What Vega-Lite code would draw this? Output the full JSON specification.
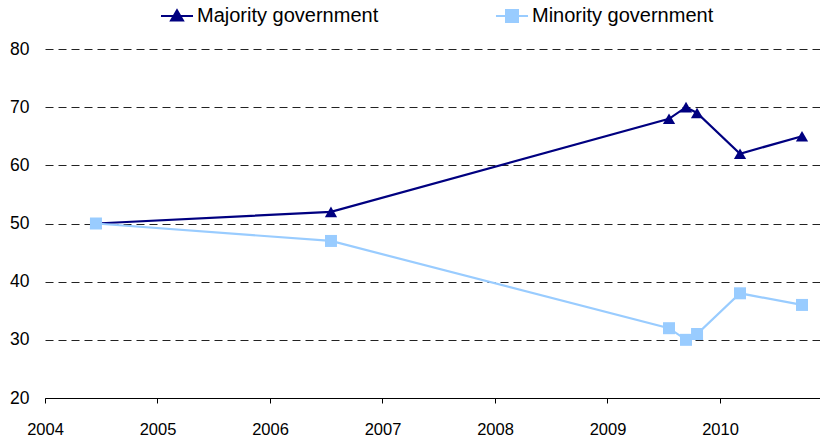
{
  "$schema": "https://vega.github.io/schema/vega-lite/v6.json",
  "width": 775,
  "height": 349,
  "autosize": {"type": "none"},
  "padding": {"left": 45, "top": 49, "right": 0, "bottom": 42},
  "background": "white",
  "config": {
    "view": {"stroke": null},
    "font": "Liberation Sans"
  },
  "data": {
    "values": [
      {"year": 2004.453, "series": "Majority government", "value": 50},
      {"year": 2006.542, "series": "Majority government", "value": 52},
      {"year": 2009.547, "series": "Majority government", "value": 68},
      {"year": 2009.698, "series": "Majority government", "value": 70},
      {"year": 2009.796, "series": "Majority government", "value": 69},
      {"year": 2010.178, "series": "Majority government", "value": 62},
      {"year": 2010.729, "series": "Majority government", "value": 65},
      {"year": 2004.453, "series": "Minority government", "value": 50},
      {"year": 2006.542, "series": "Minority government", "value": 47},
      {"year": 2009.547, "series": "Minority government", "value": 32},
      {"year": 2009.698, "series": "Minority government", "value": 30},
      {"year": 2009.796, "series": "Minority government", "value": 31},
      {"year": 2010.178, "series": "Minority government", "value": 38},
      {"year": 2010.729, "series": "Minority government", "value": 36}
    ]
  },
  "encoding": {
    "x": {
      "field": "year", "type": "quantitative",
      "scale": {"domain": [2004, 2010.889], "nice": false, "zero": false},
      "axis": {
        "title": null, "values": [2004, 2005, 2006, 2007, 2008, 2009, 2010], "format": "d",
        "grid": false, "domain": true, "domainColor": "black", "domainWidth": 1,
        "ticks": true, "tickColor": "black", "tickSize": 5, "tickWidth": 1,
        "labelFont": "Liberation Sans", "labelFontSize": 16.5, "labelColor": "black",
        "labelPadding": 18, "labelFlush": false, "zindex": 1
      }
    },
    "y": {
      "field": "value", "type": "quantitative",
      "scale": {"domain": [20, 80], "nice": false, "zero": false},
      "axis": {
        "title": null, "values": [20, 30, 40, 50, 60, 70, 80],
        "grid": true, "gridColor": "#222222", "gridDash": [8, 5], "gridWidth": 1,
        "domain": false, "ticks": false,
        "labelFont": "Liberation Sans", "labelFontSize": 17.5, "labelColor": "black",
        "labelPadding": 16
      }
    },
    "color": {
      "field": "series", "type": "nominal",
      "scale": {"domain": ["Majority government", "Minority government"], "range": ["#000080", "#99CCFF"]},
      "legend": {
        "orient": "none", "legendX": 122, "legendY": -43, "direction": "horizontal", "title": null,
        "symbolSize": 144, "symbolStrokeWidth": 2, "labelOffset": 10, "columnPadding": 112,
        "labelFont": "Liberation Sans", "labelFontSize": 20, "labelColor": "black", "labelLimit": 0,
        "encode": {
          "symbols": {
            "update": {
              "shape": {"signal": "datum.value === 'Majority government' ? 'M-2.67,0L2.67,0M0,-0.95L1,0.75L-1,0.75Z' : 'M-2.67,0L2.67,0M-1,-1L1,-1L1,1L-1,1Z'"},
              "fill": {"signal": "datum.value === 'Majority government' ? '#000080' : '#99CCFF'"},
              "stroke": {"signal": "datum.value === 'Majority government' ? '#000080' : '#99CCFF'"},
              "strokeWidth": {"value": 2},
              "opacity": {"value": 1},
              "fillOpacity": {"value": 1},
              "strokeOpacity": {"value": 1}
            }
          }
        }
      }
    }
  },
  "layer": [
    {
      "mark": {"type": "line", "strokeWidth": 2.2}
    },
    {
      "transform": [{"filter": "datum.series === 'Majority government'"}],
      "mark": {"type": "point", "filled": true, "opacity": 1, "size": 150, "shape": "triangle-up"}
    },
    {
      "transform": [{"filter": "datum.series === 'Minority government'"}],
      "mark": {"type": "point", "filled": true, "opacity": 1, "size": 144, "shape": "square"}
    }
  ]
}
